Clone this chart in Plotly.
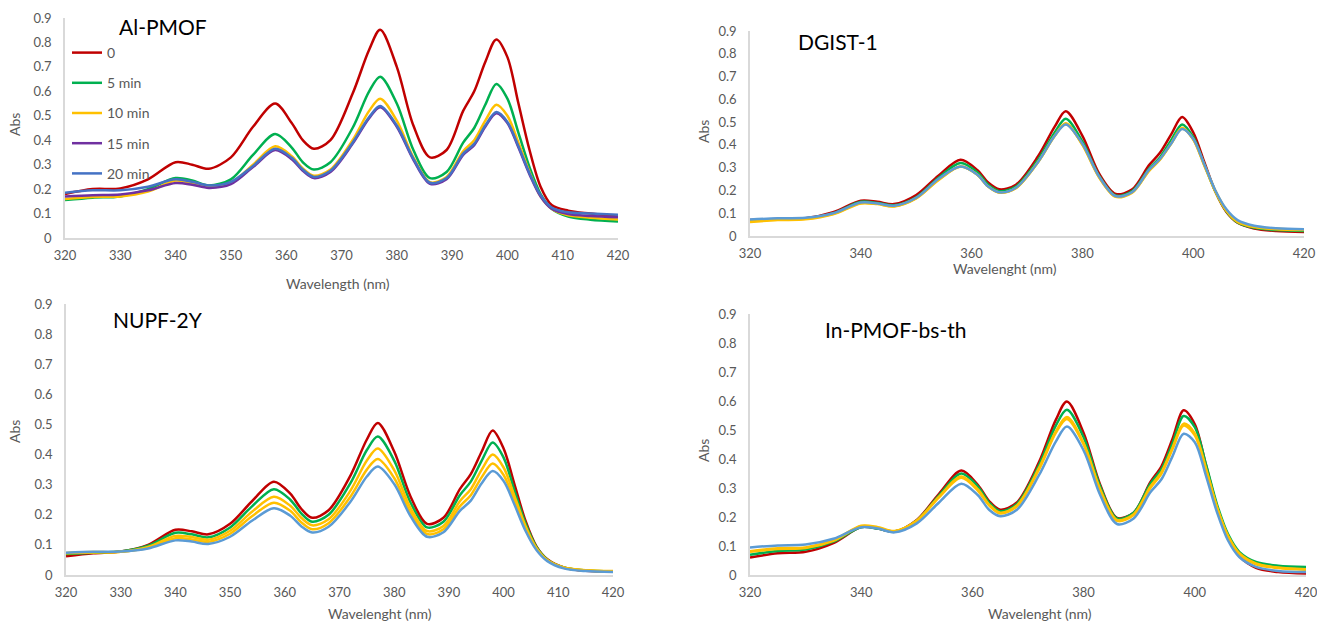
import plotly.graph_objects as go

W, H = 1317, 623

# Common wavelength grid (nm)
wl = [320, 325, 330, 335, 340, 343, 346, 350, 354, 358, 361, 363, 365, 368, 372, 375, 377,
      380, 383, 386, 389, 392, 394, 396, 398, 400, 402, 404, 406, 408, 411, 415, 420]

series_names = ["0", "5 min", "10 min", "15 min", "20 min"]

# ---- Al-PMOF ----
al_0 = [0.180, 0.200, 0.203, 0.240, 0.310, 0.300, 0.283, 0.330, 0.455, 0.550, 0.470, 0.400, 0.365, 0.400, 0.590, 0.770, 0.852,
        0.700, 0.460, 0.330, 0.360, 0.520, 0.600, 0.720, 0.812, 0.740, 0.550, 0.360, 0.210, 0.135, 0.112, 0.100, 0.088]
al_5 = [0.155, 0.165, 0.170, 0.200, 0.245, 0.235, 0.215, 0.240, 0.340, 0.425, 0.370, 0.310, 0.280, 0.310, 0.450, 0.600, 0.660,
        0.550, 0.360, 0.245, 0.270, 0.390, 0.450, 0.545, 0.630, 0.570, 0.430, 0.290, 0.180, 0.120, 0.088, 0.075, 0.068]
al_10 = [0.160, 0.168, 0.170, 0.190, 0.235, 0.225, 0.210, 0.225, 0.300, 0.375, 0.335, 0.285, 0.255, 0.280, 0.400, 0.520, 0.570,
         0.480, 0.330, 0.228, 0.250, 0.355, 0.400, 0.480, 0.545, 0.500, 0.390, 0.270, 0.170, 0.120, 0.093, 0.083, 0.076]
al_15 = [0.170, 0.175, 0.178, 0.195, 0.225, 0.218, 0.205, 0.220, 0.290, 0.360, 0.322, 0.275, 0.245, 0.270, 0.385, 0.490, 0.535,
         0.455, 0.320, 0.222, 0.240, 0.340, 0.380, 0.455, 0.510, 0.470, 0.370, 0.260, 0.170, 0.120, 0.098, 0.090, 0.085]
al_20 = [0.185, 0.195, 0.195, 0.210, 0.240, 0.230, 0.215, 0.230, 0.295, 0.365, 0.328, 0.280, 0.250, 0.275, 0.390, 0.495, 0.540,
         0.460, 0.325, 0.226, 0.245, 0.345, 0.385, 0.460, 0.515, 0.475, 0.375, 0.265, 0.175, 0.125, 0.105, 0.100, 0.095]

# ---- DGIST-1 ----
dg_0 = [0.070, 0.075, 0.078, 0.105, 0.155, 0.150, 0.140, 0.180, 0.265, 0.335, 0.290, 0.235, 0.205, 0.225, 0.350, 0.480, 0.548,
        0.440, 0.275, 0.185, 0.205, 0.310, 0.365, 0.445, 0.522, 0.455, 0.325, 0.195, 0.105, 0.058, 0.033, 0.022, 0.018]
dg_5 = [0.068, 0.074, 0.077, 0.100, 0.150, 0.145, 0.135, 0.170, 0.255, 0.320, 0.280, 0.225, 0.197, 0.217, 0.335, 0.455, 0.515,
        0.415, 0.265, 0.178, 0.197, 0.295, 0.345, 0.420, 0.490, 0.435, 0.315, 0.195, 0.108, 0.060, 0.036, 0.026, 0.022]
dg_10 = [0.062, 0.070, 0.073, 0.095, 0.143, 0.140, 0.130, 0.165, 0.245, 0.305, 0.270, 0.217, 0.190, 0.210, 0.325, 0.440, 0.495,
         0.400, 0.258, 0.172, 0.190, 0.285, 0.335, 0.405, 0.475, 0.425, 0.310, 0.195, 0.110, 0.062, 0.039, 0.030, 0.026]
dg_15 = [0.066, 0.073, 0.076, 0.097, 0.145, 0.141, 0.131, 0.166, 0.247, 0.305, 0.270, 0.217, 0.191, 0.211, 0.325, 0.440, 0.492,
         0.402, 0.260, 0.174, 0.192, 0.288, 0.337, 0.405, 0.472, 0.425, 0.312, 0.198, 0.113, 0.066, 0.042, 0.032, 0.028]
dg_20 = [0.072, 0.078, 0.080, 0.100, 0.147, 0.143, 0.133, 0.168, 0.250, 0.305, 0.270, 0.217, 0.192, 0.212, 0.325, 0.440, 0.490,
         0.405, 0.262, 0.175, 0.193, 0.290, 0.338, 0.405, 0.470, 0.427, 0.315, 0.200, 0.117, 0.070, 0.045, 0.034, 0.030]

# ---- NUPF-2Y ----
nu_0 = [0.062, 0.072, 0.078, 0.100, 0.150, 0.145, 0.135, 0.170, 0.245, 0.310, 0.270, 0.220, 0.190, 0.215, 0.330, 0.450, 0.505,
        0.410, 0.260, 0.170, 0.190, 0.285, 0.335, 0.410, 0.480, 0.420, 0.300, 0.180, 0.095, 0.052, 0.025, 0.014, 0.012]
nu_5 = [0.070, 0.074, 0.078, 0.097, 0.140, 0.135, 0.125, 0.158, 0.228, 0.285, 0.250, 0.205, 0.177, 0.200, 0.305, 0.415, 0.460,
        0.380, 0.240, 0.158, 0.177, 0.265, 0.310, 0.380, 0.440, 0.390, 0.280, 0.172, 0.093, 0.051, 0.025, 0.015, 0.012]
nu_10 = [0.072, 0.075, 0.077, 0.093, 0.130, 0.126, 0.117, 0.147, 0.210, 0.260, 0.230, 0.190, 0.165, 0.185, 0.280, 0.380, 0.420,
         0.348, 0.222, 0.146, 0.163, 0.245, 0.285, 0.350, 0.400, 0.357, 0.262, 0.163, 0.090, 0.050, 0.025, 0.016, 0.013]
nu_15 = [0.073, 0.076, 0.077, 0.090, 0.122, 0.118, 0.110, 0.137, 0.195, 0.240, 0.213, 0.175, 0.152, 0.172, 0.260, 0.350, 0.385,
         0.322, 0.207, 0.136, 0.152, 0.228, 0.265, 0.325, 0.370, 0.332, 0.246, 0.154, 0.087, 0.048, 0.024, 0.015, 0.012]
nu_20 = [0.074, 0.077, 0.078, 0.088, 0.115, 0.111, 0.103, 0.127, 0.180, 0.222, 0.197, 0.162, 0.141, 0.160, 0.243, 0.327, 0.360,
         0.302, 0.195, 0.127, 0.142, 0.213, 0.247, 0.305, 0.345, 0.312, 0.233, 0.147, 0.083, 0.046, 0.022, 0.013, 0.010]

# ---- In-PMOF-bs-th ----
in_0 = [0.060, 0.075, 0.080, 0.110, 0.165, 0.160, 0.150, 0.190, 0.280, 0.360, 0.310, 0.255, 0.225, 0.250, 0.390, 0.535, 0.598,
        0.490, 0.310, 0.197, 0.215, 0.320, 0.375, 0.470, 0.568, 0.520, 0.380, 0.235, 0.128, 0.065, 0.025, 0.010, 0.005]
in_5 = [0.070, 0.083, 0.088, 0.115, 0.165, 0.160, 0.150, 0.188, 0.275, 0.350, 0.305, 0.250, 0.220, 0.245, 0.380, 0.515, 0.570,
        0.475, 0.305, 0.195, 0.215, 0.315, 0.365, 0.455, 0.548, 0.510, 0.382, 0.243, 0.140, 0.080, 0.045, 0.032, 0.028]
in_10 = [0.082, 0.092, 0.095, 0.120, 0.170, 0.165, 0.152, 0.188, 0.270, 0.340, 0.295, 0.243, 0.215, 0.240, 0.370, 0.495, 0.545,
         0.455, 0.295, 0.190, 0.210, 0.305, 0.355, 0.440, 0.522, 0.488, 0.368, 0.234, 0.134, 0.075, 0.040, 0.026, 0.020]
in_15 = [0.080, 0.090, 0.093, 0.118, 0.168, 0.163, 0.150, 0.186, 0.268, 0.335, 0.290, 0.240, 0.212, 0.237, 0.365, 0.490, 0.538,
         0.450, 0.290, 0.187, 0.207, 0.300, 0.350, 0.435, 0.515, 0.482, 0.363, 0.231, 0.132, 0.072, 0.037, 0.024, 0.018]
in_20 = [0.095, 0.102, 0.105, 0.125, 0.165, 0.160, 0.147, 0.178, 0.250, 0.315, 0.275, 0.225, 0.203, 0.225, 0.345, 0.460, 0.512,
         0.430, 0.275, 0.176, 0.195, 0.285, 0.330, 0.410, 0.487, 0.458, 0.343, 0.216, 0.118, 0.062, 0.028, 0.014, 0.010]

panel_titles = ["Al-PMOF", "DGIST-1", "NUPF-2Y", "In-PMOF-bs-th"]
x_titles = ["Wavelength (nm)", "Wavelenght (nm)", "Wavelenght (nm)", "Wavelenght (nm)"]
y_ticks = [0, 0.1, 0.2, 0.3, 0.4, 0.5, 0.6, 0.7, 0.8, 0.9]
y_ticklabels = ["0", "0.1", "0.2", "0.3", "0.4", "0.5", "0.6", "0.7", "0.8", "0.9"]

panels_data = [
    [al_0, al_5, al_10, al_15, al_20],
    [dg_0, dg_5, dg_10, dg_15, dg_20],
    [nu_0, nu_5, nu_10, nu_15, nu_20],
    [in_0, in_5, in_10, in_15, in_20],
]
colors_p1 = ["#C00000", "#00B050", "#FFC000", "#7030A0", "#4472C4"]
colors_other = ["#C00000", "#00B050", "#FFC000", "#FFC000", "#5B9BD5"]

# layout geometry: page pixels -> paper fractions
def px_x(p):
    return p / W

def px_y(p):
    return 1 - p / H

geo = [
    dict(x=(65, 618), y=(238, 18), dtick=10),
    dict(x=(750, 1304), y=(236, 31), dtick=20),
    dict(x=(66, 613), y=(575, 304), dtick=10),
    dict(x=(750, 1306), y=(575, 314), dtick=20),
]

FONT = "Lato, 'Open Sans', sans-serif"
GRAY = "#595959"
AXC = "#D9D9D9"

fig = go.Figure()
layout = dict()
for i, (data, g) in enumerate(zip(panels_data, geo)):
    xa = "x" if i == 0 else f"x{i+1}"
    ya = "y" if i == 0 else f"y{i+1}"
    cols = colors_p1 if i == 0 else colors_other
    for j, ys in enumerate(data):
        fig.add_trace(go.Scatter(
            x=wl, y=ys, mode="lines", name=series_names[j],
            line=dict(color=cols[j], width=2.5, shape="spline", smoothing=0.9),
            xaxis=xa, yaxis=ya, showlegend=(i == 0), legendgroup=f"g{j}",
            hoverinfo="skip",
        ))
    xkey = "xaxis" if i == 0 else f"xaxis{i+1}"
    ykey = "yaxis" if i == 0 else f"yaxis{i+1}"
    layout[xkey] = dict(
        domain=[px_x(g["x"][0]), px_x(g["x"][1])], anchor=ya, automargin=False,
        range=[320, 420], tickmode="linear", tick0=320, dtick=g["dtick"],
        showgrid=False, zeroline=False, showline=True, linecolor=AXC, linewidth=1.5,
        ticks="", tickfont=dict(family=FONT, size=13, color=GRAY), ticklabelstandoff=5,
        ticklabeloverflow="allow",
    )
    layout[ykey] = dict(
        domain=[px_y(g["y"][0]), px_y(g["y"][1])], anchor=xa, automargin=False,
        range=[0, 0.9], tickmode="array", tickvals=y_ticks, ticktext=y_ticklabels,
        showgrid=False, zeroline=False, showline=True, linecolor=AXC, linewidth=1.5,
        ticks="", tickfont=dict(family=FONT, size=13, color=GRAY), ticklabelstandoff=9,
    )

annotations = []
# Titles
title_pos = [(163, 26), (838, 42), (158, 320), (895, 329)]
for t, (x, y) in zip(panel_titles, title_pos):
    annotations.append(dict(text=t, x=px_x(x), y=px_y(y), xref="paper", yref="paper",
                            showarrow=False, xanchor="center", yanchor="middle",
                            font=dict(family=FONT, size=21, color="#000000")))
# X titles
xt_pos = [(338, 284), (1005, 268), (380, 613), (1040, 613)]
for t, (x, y) in zip(x_titles, xt_pos):
    annotations.append(dict(text=t, x=px_x(x), y=px_y(y), xref="paper", yref="paper",
                            showarrow=False, xanchor="center", yanchor="middle",
                            font=dict(family=FONT, size=14, color=GRAY)))
# Y titles
yt_pos = [(15, 125), (703, 131), (15, 432), (703, 450)]
for (x, y) in yt_pos:
    annotations.append(dict(text="Abs", x=px_x(x), y=px_y(y), xref="paper", yref="paper",
                            showarrow=False, xanchor="center", yanchor="middle", textangle=-90,
                            font=dict(family=FONT, size=14, color=GRAY)))

fig.update_layout(
    width=W, height=H,
    margin=dict(l=0, r=0, t=0, b=0, autoexpand=False),
    paper_bgcolor="white", plot_bgcolor="white",
    annotations=annotations,
    legend=dict(x=px_x(67), y=px_y(37), xanchor="left", yanchor="top",
                bgcolor="rgba(0,0,0,0)", tracegroupgap=9,
                font=dict(family=FONT, size=14, color=GRAY)),
    **layout,
)

fig.write_html(
    "out.html",
    config={"displayModeBar": False},
    post_script="document.body.style.margin='0';document.body.style.overflow='hidden';",
)
